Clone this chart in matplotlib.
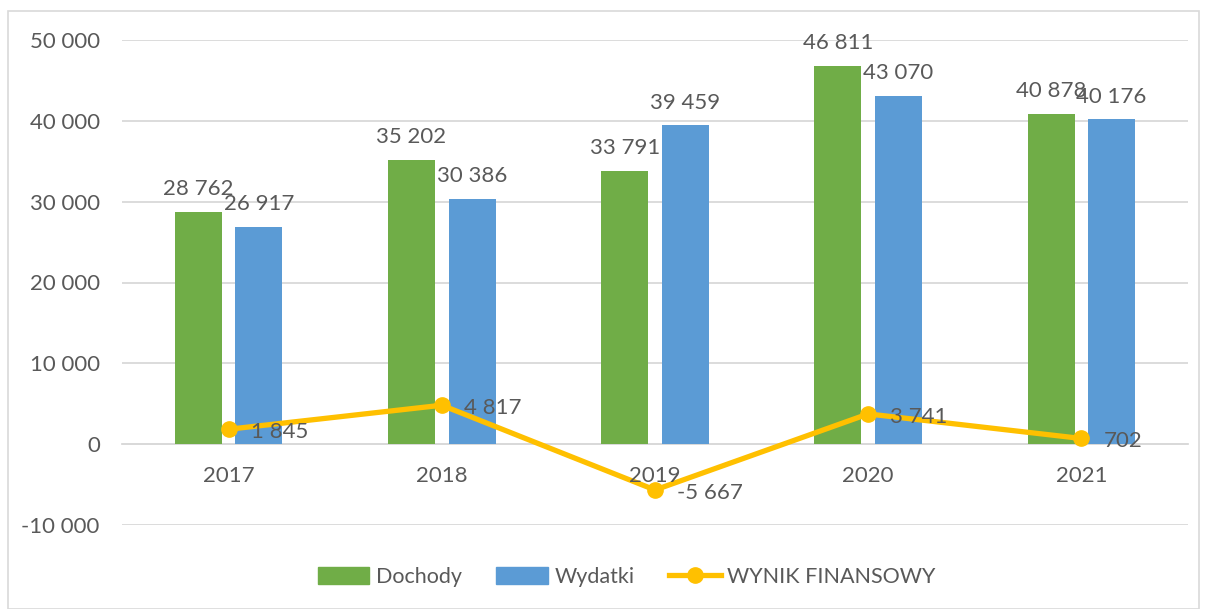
import matplotlib.pyplot as plt
from matplotlib.patches import Rectangle, Patch
from matplotlib.lines import Line2D
import numpy as np

years = ['2017', '2018', '2019', '2020', '2021']
dochody = [28762, 35202, 33791, 46811, 40878]
wydatki = [26917, 30386, 39459, 43070, 40176]
wynik = [1845, 4817, -5667, 3741, 702]

GREEN = '#70AD47'
BLUE = '#5B9BD5'
GOLD = '#FFC000'
TXT = '#595959'
GRID = '#D9D9D9'
FS = 16

plt.rcParams['font.family'] = ['Lato', 'DejaVu Sans']


def fmt(v):
    return '{:,}'.format(v).replace(',', ' ')


fig = plt.figure(figsize=(12.05, 6.09), dpi=100)
fig.patches.append(Rectangle((8 / 1205, 0.0), 1191 / 1205, 598 / 609, transform=fig.transFigure,
                             fill=False, edgecolor=GRID, linewidth=1.2))

ax = fig.add_axes([122 / 1205, 1 - 525 / 609, 1066 / 1205, 485 / 609])
x = np.arange(len(years))
w = 0.22
off = 0.142

b1 = ax.bar(x - off, dochody, w, color=GREEN, zorder=1.5)
b2 = ax.bar(x + off, wydatki, w, color=BLUE, zorder=1.5)
for bars, vals in ((b1, dochody), (b2, wydatki)):
    for r, v in zip(bars, vals):
        ax.annotate(fmt(v), (r.get_x() + r.get_width() / 2, v), xytext=(0, 12),
                    textcoords='offset points', ha='center', va='baseline',
                    fontsize=FS, color=TXT, zorder=6)

ax.plot(x, wynik, color=GOLD, linewidth=3.8, marker='o', markersize=11, zorder=2.2)
for xi, v in zip(x, wynik):
    ax.annotate(fmt(v), (xi, v), xytext=(16, -2), textcoords='offset points',
                ha='left', va='center', fontsize=FS, color=TXT, zorder=6)

ax.set_xlim(-0.5, 4.5)
ax.set_ylim(-10000, 50000)
ax.set_yticks(np.arange(-10000, 50001, 10000))
ax.set_yticklabels([fmt(v) for v in range(-10000, 50001, 10000)])
ax.set_xticks(x)
ax.set_xticklabels(years)
ax.tick_params(axis='both', length=0, labelsize=FS, labelcolor=TXT)
ax.tick_params(axis='y', pad=16)
ax.tick_params(axis='x', pad=16)
ax.grid(axis='y', color=GRID, linewidth=1.3)
ax.yaxis.set_zorder(0.5)
ax.xaxis.set_zorder(5)
for s in ('top', 'right', 'left'):
    ax.spines[s].set_visible(False)
ax.spines['bottom'].set_position(('data', 0))
ax.spines['bottom'].set_color(GRID)
ax.spines['bottom'].set_linewidth(1.3)
ax.spines['bottom'].set_zorder(1)

handles = [Patch(color=GREEN), Patch(color=BLUE),
           Line2D([], [], color=GOLD, linewidth=3.8, marker='o', markersize=11)]
fig.legend(handles, ['Dochody', 'Wydatki', 'WYNIK FINANSOWY'], loc='center',
           bbox_to_anchor=(0.52, 1 - 577 / 609), ncol=3, frameon=False,
           fontsize=15.5, labelcolor=TXT, handlelength=2.4, handleheight=0.8,
           handletextpad=0.3, columnspacing=1.6)

fig.savefig('out.png', dpi=100)
